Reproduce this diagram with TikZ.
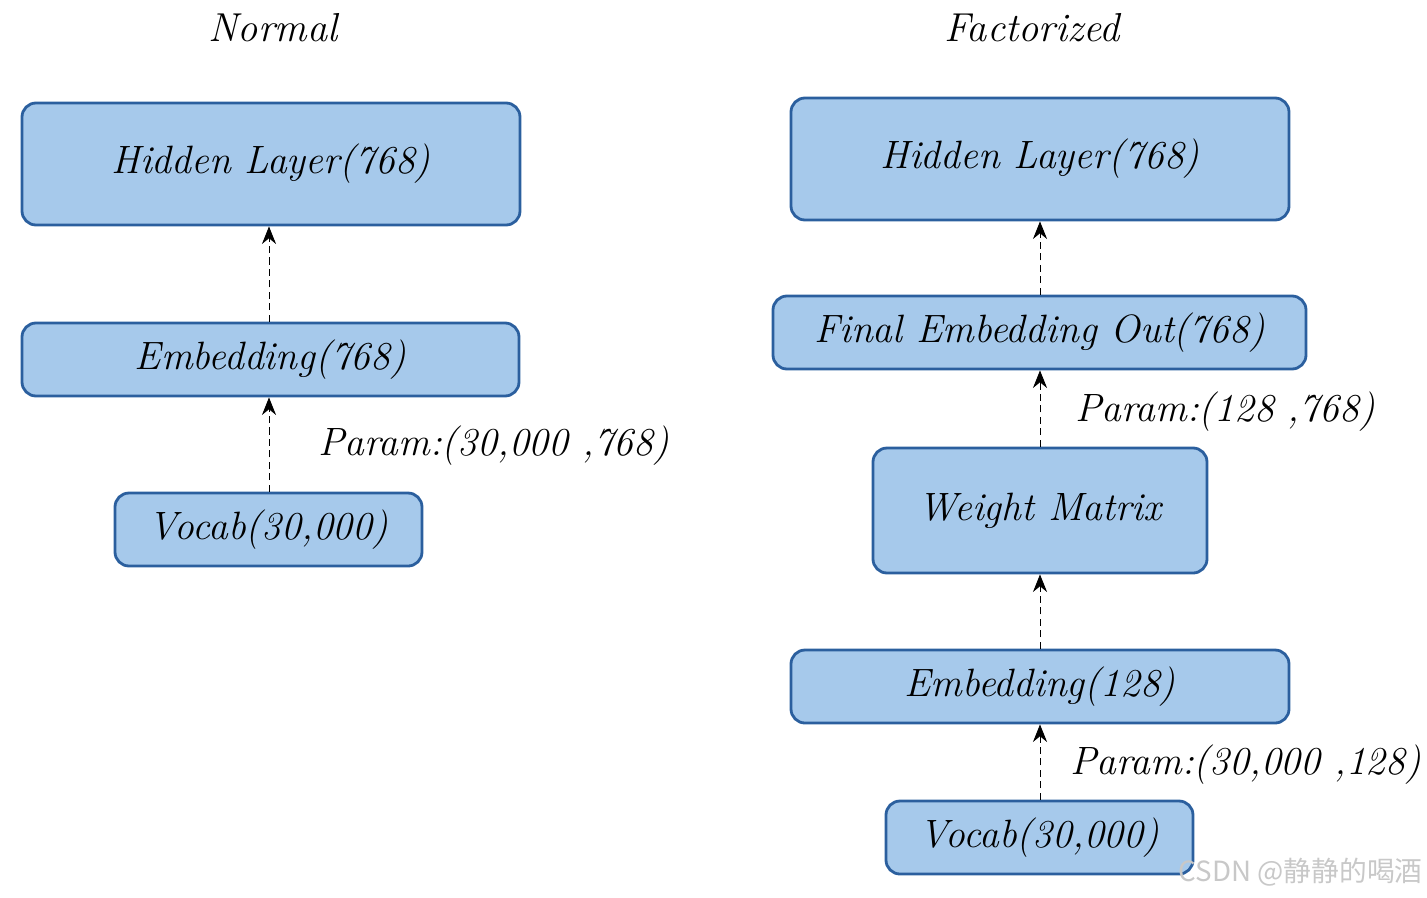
\documentclass[tikz,border=0pt]{standalone}
\usepackage{fontspec}
\newfontfamily\cjk{Noto Sans CJK SC}
\usetikzlibrary{arrows.meta}
\definecolor{boxfill}{HTML}{A6C9EB}
\definecolor{boxdraw}{HTML}{2B5F9E}
\definecolor{wm}{HTML}{C8C8C8}
\tikzset{
  px/.style={x=0.02cm,y=-0.02cm},
  blk/.style={draw=boxdraw,fill=boxfill,line width=1.6pt,rounded corners=0.28cm,inner sep=0pt,
    font=\fontsize{22.5}{26}\selectfont\itshape},
  lbl/.style={font=\fontsize{22.5}{26}\selectfont\itshape,inner sep=0pt,anchor=west},
  ttl/.style={font=\fontsize{23}{27}\selectfont\itshape,inner sep=0pt},
  conn/.style={dash pattern=on 4pt off 2.5pt,black,line width=0.5pt,-{Stealth[length=10pt,width=8pt]}},
}
\begin{document}
\begin{tikzpicture}[px]
\useasboundingbox (0,0) rectangle (1427,897);
% titles
\node[ttl] (tn) at (273,28) {Normal};
\node[ttl] (tf) at (1032,28) {Factorized};
% left column
\node[blk,minimum width=498*0.02cm,minimum height=122*0.02cm] (lh) at (271,164) {Hidden Layer(768)};
\node[blk,minimum width=497*0.02cm,minimum height=73*0.02cm] (le) at (270.5,359.5) {Embedding(768)};
\node[blk,minimum width=307*0.02cm,minimum height=73*0.02cm] (lv) at (268.5,529.5) {Vocab(30,000)};
\node[lbl] (lp) at (318,446) {Param:(30,000 ,768)};
\draw[conn] (lv.north -| 269,0) -- (le.south -| 269,0);
\draw[conn] (le.north -| 269,0) -- (lh.south -| 269,0);
% right column
\node[blk,minimum width=498*0.02cm,minimum height=122*0.02cm] (rh) at (1040,159) {Hidden Layer(768)};
\node[blk,minimum width=533*0.02cm,minimum height=73*0.02cm] (rf) at (1039.5,332.5) {Final Embedding Out(768)};
\node[blk,minimum width=334*0.02cm,minimum height=125*0.02cm] (rw) at (1040,510.5) {Weight Matrix};
\node[blk,minimum width=498*0.02cm,minimum height=73*0.02cm] (re) at (1040,686.5) {Embedding(128)};
\node[blk,minimum width=307*0.02cm,minimum height=73*0.02cm] (rv) at (1039.5,837.5) {Vocab(30,000)};
\node[lbl] (rp1) at (1075,412) {Param:(128 ,768)};
\node[lbl] (rp2) at (1070,765) {Param:(30,000 ,128)};
\draw[conn] (rv.north -| 1040,0) -- (re.south -| 1040,0);
\draw[conn] (re.north -| 1040,0) -- (rw.south -| 1040,0);
\draw[conn] (rw.north -| 1040,0) -- (rf.south -| 1040,0);
\draw[conn] (rf.north -| 1040,0) -- (rh.south -| 1040,0);
% watermark
\node[anchor=east,inner sep=0pt,text=wm,font=\fontsize{15.8}{19}\selectfont\cjk] (wmk) at (1423,872) {CSDN @静静的喝酒};
\end{tikzpicture}
\end{document}
